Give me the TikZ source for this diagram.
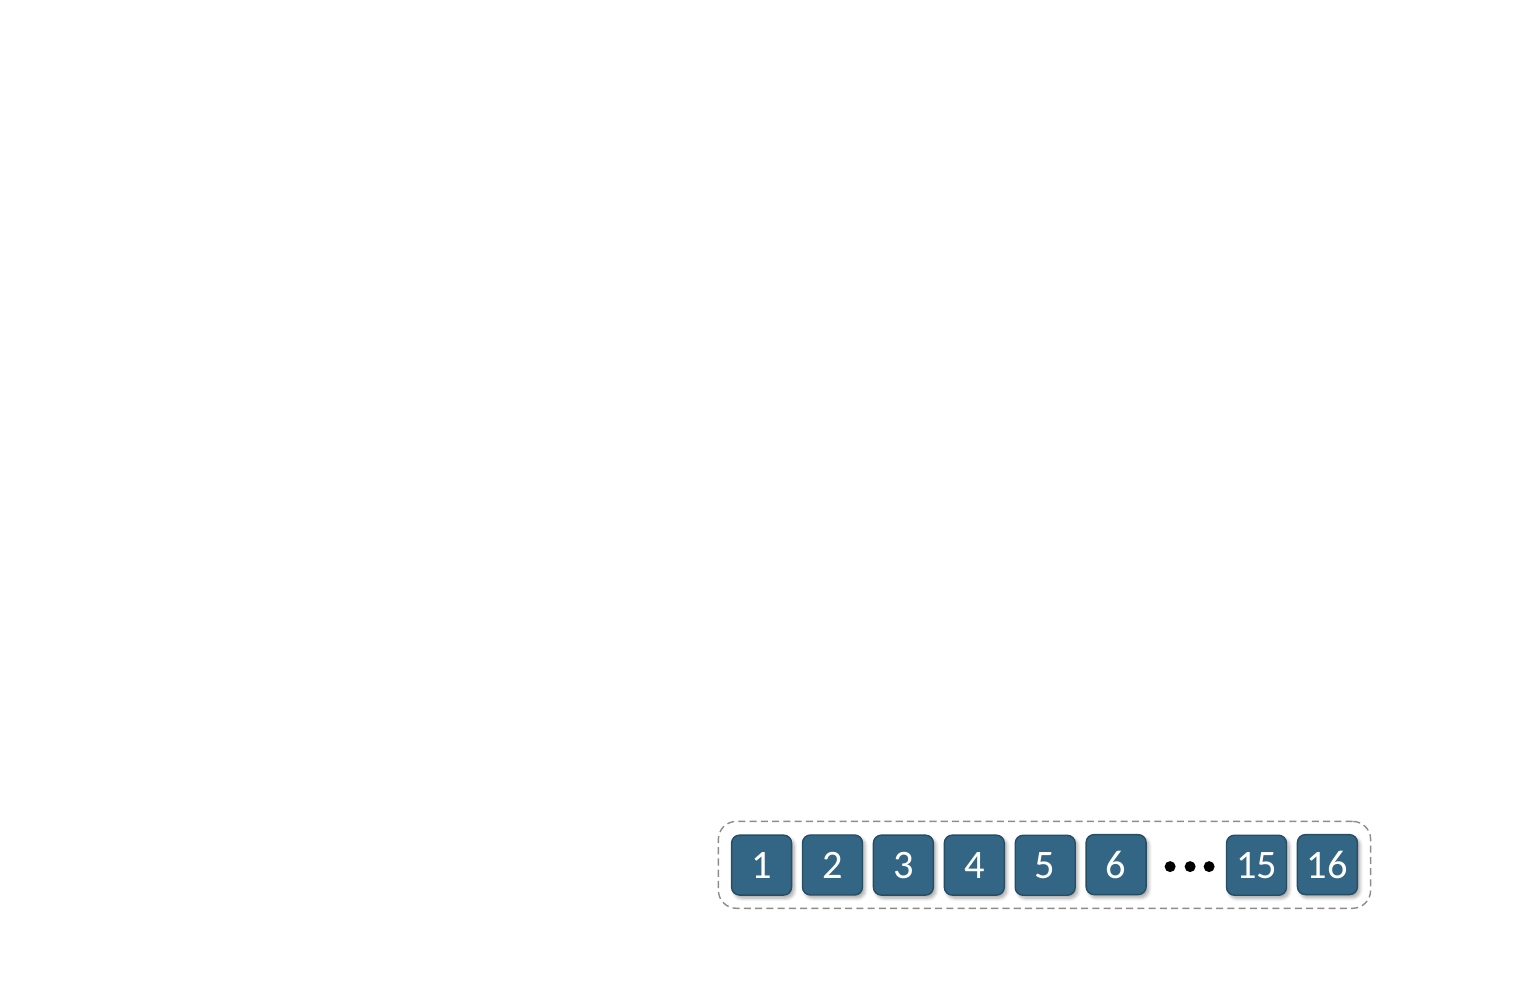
\documentclass[tikz,border=0pt]{standalone}
\usepackage{fontspec}
\setmainfont{Carlito}
\usepackage{xcolor}
\usetikzlibrary{positioning, fit, matrix, shadows.blur}

\definecolor{cellblue}{HTML}{336685}
\definecolor{celledge}{HTML}{274D63}

\tikzset{
  cell/.style={draw=celledge, line width=0.8pt, fill=cellblue, rounded corners=0.16cm,
    minimum width=1.2cm, minimum height=1.2cm, inner sep=0pt, text=white,
    font=\fontsize{23}{23}\selectfont,
    blur shadow={shadow xshift=0.05cm, shadow yshift=-0.06cm, shadow blur steps=6, shadow opacity=35}},
  gapcell/.style={minimum width=1.2cm, minimum height=1.2cm, inner sep=0pt},
  frame/.style={draw=black!45, dash pattern=on 4pt off 2.4pt, line width=0.8pt,
    rounded corners=0.36cm, inner sep=0.25cm}
}

\begin{document}
\begin{tikzpicture}
  \useasboundingbox (0,0) rectangle (30.46,19.62);

  % Row of cells
  \matrix[matrix of nodes, ampersand replacement=\&, column sep=0.19cm,
    nodes={cell}
  ] (row) at (20.89,2.20) {
    1 \& 2 \& 3 \& 4 \& 5 \& 6 \& |[gapcell, draw=none, fill=none, blur shadow={shadow opacity=0}]| \& 15 \& 16 \\
  };

  % Dots in the gap
  \foreach \dx in {1.08, 1.48, 1.86}
    \fill ([xshift=\dx cm, yshift=-0.04cm]row-1-6.center) circle (0.11);

  % Dashed frame
  \node[frame, fit=(row-1-1) (row-1-9)] (group) {};
\end{tikzpicture}
\end{document}
